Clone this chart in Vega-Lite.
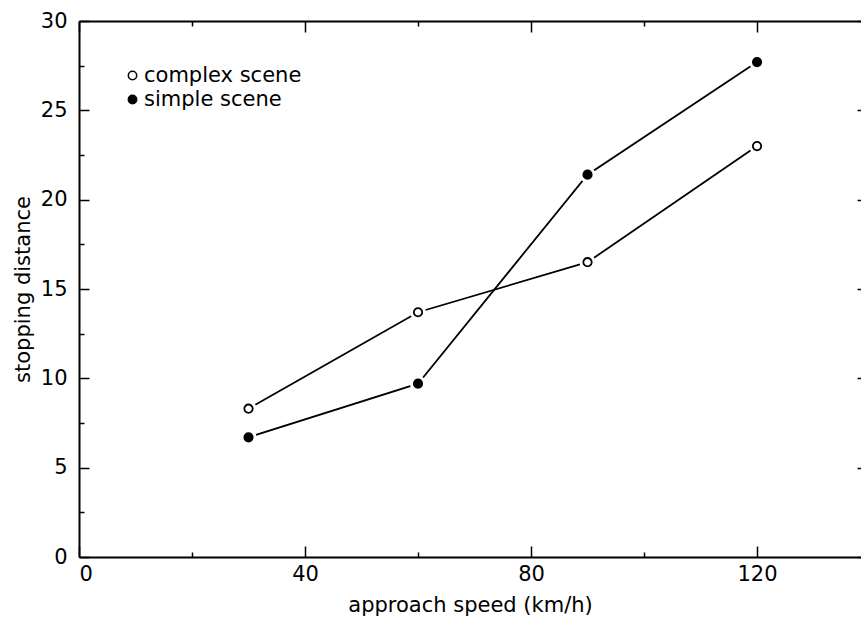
{
  "$schema": "https://vega.github.io/schema/vega-lite/v6.json",
  "width": 782,
  "height": 536,
  "autosize": "none",
  "padding": {"left": 79, "top": 21, "right": 0, "bottom": 60},
  "background": "white",
  "config": {
    "view": {"stroke": null},
    "font": "DejaVu Sans",
    "axis": {
      "grid": false,
      "domainColor": "black",
      "domainWidth": 2,
      "tickColor": "black",
      "tickWidth": 1.5,
      "labelColor": "black",
      "labelFont": "DejaVu Sans",
      "labelFontSize": 21,
      "titleColor": "black",
      "titleFont": "DejaVu Sans",
      "titleFontSize": 21,
      "titleFontWeight": "normal",
      "labelOverlap": false
    }
  },
  "data": {
    "values": [
      {"speed": 30, "distance": 8.3, "series": "complex scene"},
      {"speed": 60, "distance": 13.7, "series": "complex scene"},
      {"speed": 90, "distance": 16.5, "series": "complex scene"},
      {"speed": 120, "distance": 23.0, "series": "complex scene"},
      {"speed": 30, "distance": 6.7, "series": "simple scene"},
      {"speed": 60, "distance": 9.7, "series": "simple scene"},
      {"speed": 90, "distance": 21.4, "series": "simple scene"},
      {"speed": 120, "distance": 27.7, "series": "simple scene"}
    ]
  },
  "layer": [
    {
      "mark": {"type": "line", "color": "black", "strokeWidth": 1.8},
      "encoding": {
        "x": {
          "field": "speed", "type": "quantitative",
          "scale": {"domain": [0, 138.4], "nice": false, "zero": false},
          "axis": {
            "orient": "bottom",
            "values": [0, 20, 40, 60, 80, 100, 120],
            "tickSize": {"condition": {"test": "datum.value % 40 === 0", "value": -11}, "value": -5},
            "labelExpr": "datum.value % 40 === 0 ? datum.label : ''",
            "labelPadding": 17,
            "title": "approach speed (km/h)",
            "titlePadding": 4
          }
        },
        "y": {
          "field": "distance", "type": "quantitative",
          "scale": {"domain": [0, 30], "nice": false},
          "axis": {
            "orient": "left",
            "values": [0, 2.5, 5, 7.5, 10, 12.5, 15, 17.5, 20, 22.5, 25, 27.5, 30],
            "tickSize": {"condition": {"test": "datum.value % 5 === 0", "value": -10}, "value": -5},
            "labelExpr": "datum.value % 5 === 0 ? datum.label : ''",
            "labelPadding": 22,
            "title": "stopping distance",
            "titlePadding": 7
          }
        },
        "detail": {"field": "series"}
      }
    },
    {
      "mark": {"type": "point", "filled": true, "color": "white", "size": 260, "opacity": 1},
      "encoding": {
        "x": {
          "field": "speed", "type": "quantitative",
          "axis": {
            "orient": "top",
            "values": [0, 20, 40, 60, 80, 100, 120],
            "tickSize": {"condition": {"test": "datum.value % 40 === 0", "value": -11}, "value": -5},
            "labels": false,
            "title": null
          }
        },
        "y": {
          "field": "distance", "type": "quantitative",
          "axis": {
            "orient": "right",
            "values": [0, 5, 10, 15, 20, 25, 30],
            "tickSize": -4,
            "labels": false,
            "domain": false,
            "title": null
          }
        }
      }
    },
    {
      "mark": {"type": "point", "shape": "circle", "filled": true, "stroke": "black", "strokeWidth": 1.8, "size": 70, "opacity": 1},
      "encoding": {
        "x": {"field": "speed", "type": "quantitative", "axis": null},
        "y": {"field": "distance", "type": "quantitative", "axis": null},
        "fill": {
          "field": "series", "type": "nominal",
          "scale": {"domain": ["complex scene", "simple scene"], "range": ["white", "black"]},
          "legend": {
            "orient": "none",
            "legendX": 43,
            "legendY": 44,
            "title": null,
            "padding": 0,
            "symbolType": "circle",
            "symbolSize": 70,
            "symbolStrokeColor": "black",
            "symbolStrokeWidth": 1.5,
            "symbolOpacity": 1,
            "labelFont": "DejaVu Sans",
            "labelFontSize": 21,
            "labelColor": "black",
            "labelOffset": 1,
            "labelLimit": 0,
            "rowPadding": 2
          }
        }
      }
    }
  ],
  "resolve": {"axis": {"x": "independent", "y": "independent"}}
}
